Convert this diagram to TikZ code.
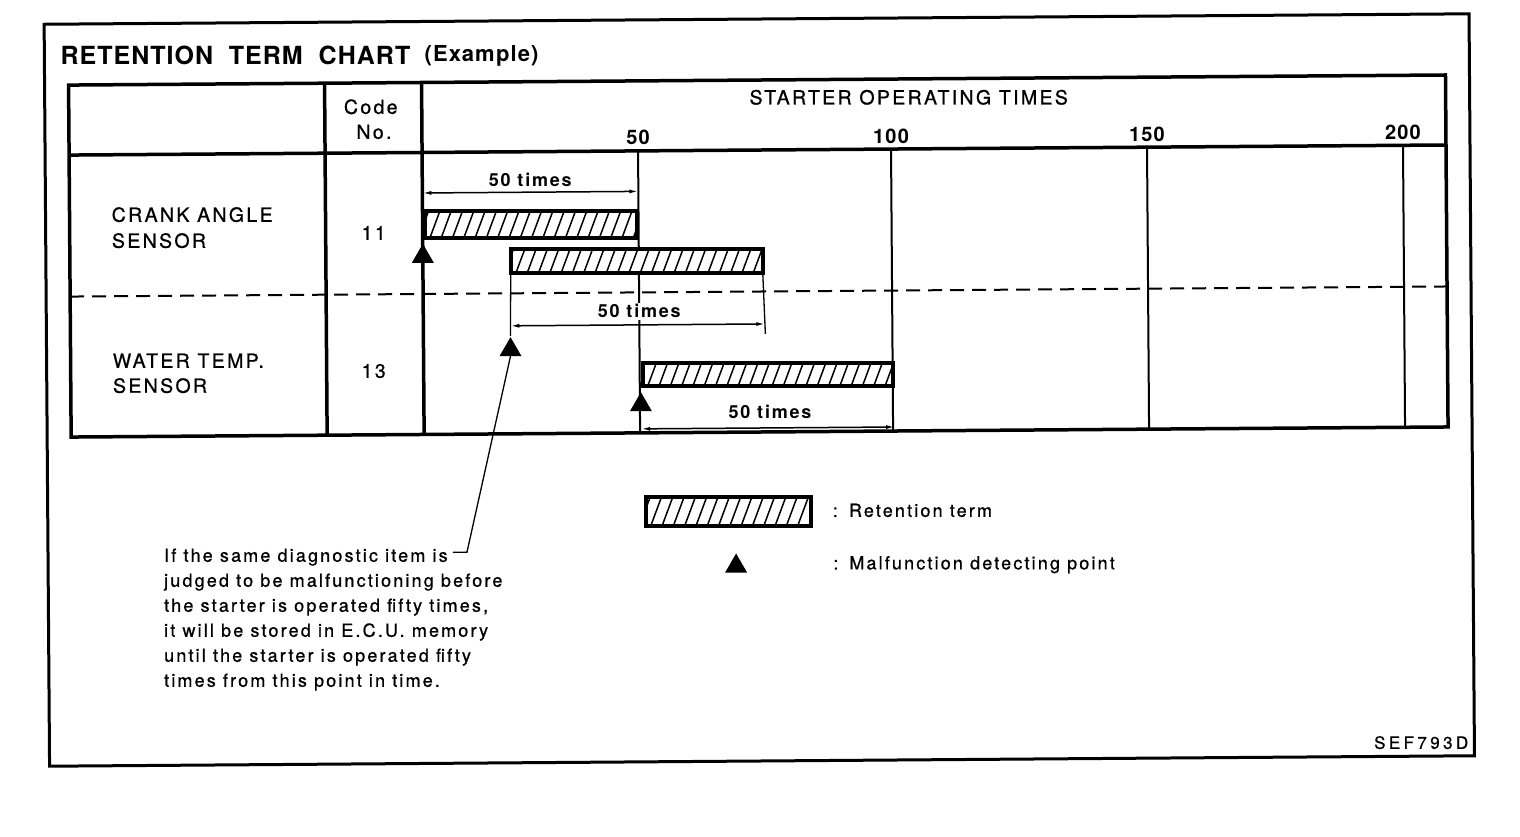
\documentclass[tikz,border=0pt]{standalone}
\usepackage{fontspec}
\setmainfont{TeX Gyre Heros}
\usetikzlibrary{arrows.meta,shapes.geometric}
\newcommand{\fsz}[2]{\fontsize{#1}{#2}\selectfont}
\begin{document}
\begin{tikzpicture}[x=1pt,y=-1pt,
  frameline/.style={line width=3pt},
  tabline/.style={line width=3.5pt},
  gridline/.style={line width=2pt},
  dashline/.style={line width=2pt,dash pattern=on 14pt off 8pt},
  dimline/.style={line width=1.5pt,{Latex[length=9pt,width=4pt]}-{Latex[length=9pt,width=4pt]}},
  extline/.style={line width=1.3pt},
  leader/.style={line width=1.3pt},
  hbar/.style={draw,line width=4pt,fill=white,inner sep=0pt,outer sep=0pt,anchor=north west,
    path picture={\foreach \k in {0,...,32}{\draw[line width=1.5pt]
      ([xshift=\k*11.3pt-40pt]path picture bounding box.south west) -- ++(13pt,35pt);}}},
  tri/.style={regular polygon,regular polygon sides=3,fill=black,inner sep=0pt,outer sep=0pt,minimum size=25.4pt},
  txt/.style={inner sep=0pt,anchor=base west},
  chartfont/.style={font=\fsz{19.5}{24}\addfontfeature{LetterSpace=12,FakeBold=0.8}},
  numfont/.style={font=\fsz{20}{24}\bfseries\addfontfeature{LetterSpace=6}},
  timesfont/.style={font=\fsz{18}{22}\bfseries\addfontfeature{LetterSpace=10}},
  notefont/.style={font=\fsz{18}{25}\addfontfeature{LetterSpace=12,FakeBold=0.8}},
]
\useasboundingbox[fill=white] (0,0) rectangle (1520,836);
\begin{scope}[rotate around={0.42:(760,418)}]
% outer frame
\draw[frameline] (47,19) rectangle (1472,761);
% title
\node[txt,font=\fsz{25}{25}\bfseries\addfontfeature{LetterSpace=4}] (title) at (63,59) {RETENTION\ \ TERM\ \ CHART};
\node[txt,font=\fsz{22}{22}\bfseries\addfontfeature{LetterSpace=5}] (example) at (427,59) {(Example)};
% table
\draw[tabline] (71,80) rectangle (1448,432);
\draw[tabline] (71,150) -- (1448,150);
\draw[tabline] (327,80) -- (327,432);
\draw[tabline] (424,80) -- (424,432);
\foreach \x in {640,893,1149,1405} \draw[gridline] (\x,150) -- (\x,432);
\draw[dashline] (71,291.5) -- (1448,291.5);
% header texts
\node[chartfont,inner sep=0pt,anchor=base] (sot) at (911,105.5) {STARTER OPERATING TIMES};
\node[chartfont,inner sep=0pt,anchor=base] (code) at (373,111) {Code};
\node[chartfont,inner sep=0pt,anchor=base] (no) at (376,136) {No.};
\node[numfont,inner sep=0pt,anchor=base] (n50) at (640,144) {50};
\node[numfont,inner sep=0pt,anchor=base] (n100) at (893,144) {100};
\node[numfont,inner sep=0pt,anchor=base] (n150) at (1149,144) {150};
\node[numfont,inner sep=0pt,anchor=base] (n200) at (1405,144) {200};
% row labels
\node[chartfont,txt] (cas1) at (113,217) {CRANK ANGLE};
\node[chartfont,txt] (cas2) at (113,243) {SENSOR};
\node[chartfont,inner sep=0pt,anchor=base] (c11) at (375,237) {11};
\node[chartfont,txt] (wts1) at (113,363) {WATER TEMP.};
\node[chartfont,txt] (wts2) at (113,388) {SENSOR};
\node[chartfont,inner sep=0pt,anchor=base] (c13) at (374,375) {13};
% bars
\node[hbar,minimum width=212pt,minimum height=27pt] (bar1) at (426,209) {};
\node[hbar,minimum width=252pt,minimum height=24pt] (bar2) at (512,247) {};
\node[hbar,minimum width=250pt,minimum height=23pt] (bar3) at (643,362) {};
% dimension 1
\coordinate (d1a) at (424,190.5);
\coordinate (d1b) at (640,190.5);
\draw[dimline] (d1a) -- (d1b);
\node[timesfont,inner sep=0pt,anchor=base] (t50a) at (532,184.5) {50 times};
% dimension 2
\coordinate (e2a) at (511,334);
\coordinate (e2b) at (766,334);
\draw[extline] (bar2.south west) -- (e2a);
\draw[extline] (bar2.south east) -- (e2b);
\coordinate (d2a) at (511,324);
\coordinate (d2b) at (766,324);
\draw[dimline] (d2a) -- (d2b);
\node[timesfont,fill=white,inner sep=1.5pt,anchor=base] (t50b) at (640,317) {50 times};
% dimension 3
\coordinate (d3a) at (641,428);
\coordinate (d3b) at (895,428);
\draw[dimline] (d3a) -- (d3b);
\node[timesfont,inner sep=0pt,anchor=base] (t50c) at (770,419) {50 times};
% malfunction points
\node[tri] (tr1) at (424,254) {};
\node[tri] (tr2) at (511,348) {};
\node[tri] (tr3) at (641,404) {};
% note
\node[notefont,inner sep=0pt,anchor=north west,align=left] (note) at (163,544)
 {If the same diagnostic item is\\judged to be malfunctioning before\\the starter is operated fifty times,\\it will be stored in E.C.U. memory\\until the starter is operated fifty\\times from this point in time.};
\coordinate (lbend) at (466,550);
\coordinate (lend) at (452,550);
\draw[leader] (tr2.south) -- (lbend) -- (lend);
% legend
\node[hbar,minimum width=165pt,minimum height=29pt] (legbar) at (645,496) {};
\node[tri] (tr4) at (735,566) {};
\node[notefont,txt] (col1) at (832,517.5) {:};
\node[notefont,txt] (leg1) at (848,517.5) {Retention term};
\node[notefont,txt] (col2) at (832,570) {:};
\node[notefont,txt] (leg2) at (848,570) {Malfunction detecting point};
% figure id
\node[inner sep=0pt,anchor=base east,font=\fsz{17}{20}\addfontfeature{LetterSpace=20,FakeBold=0.8}] (sef) at (1466,754) {SEF793D};
\end{scope}
\end{tikzpicture}
\end{document}
